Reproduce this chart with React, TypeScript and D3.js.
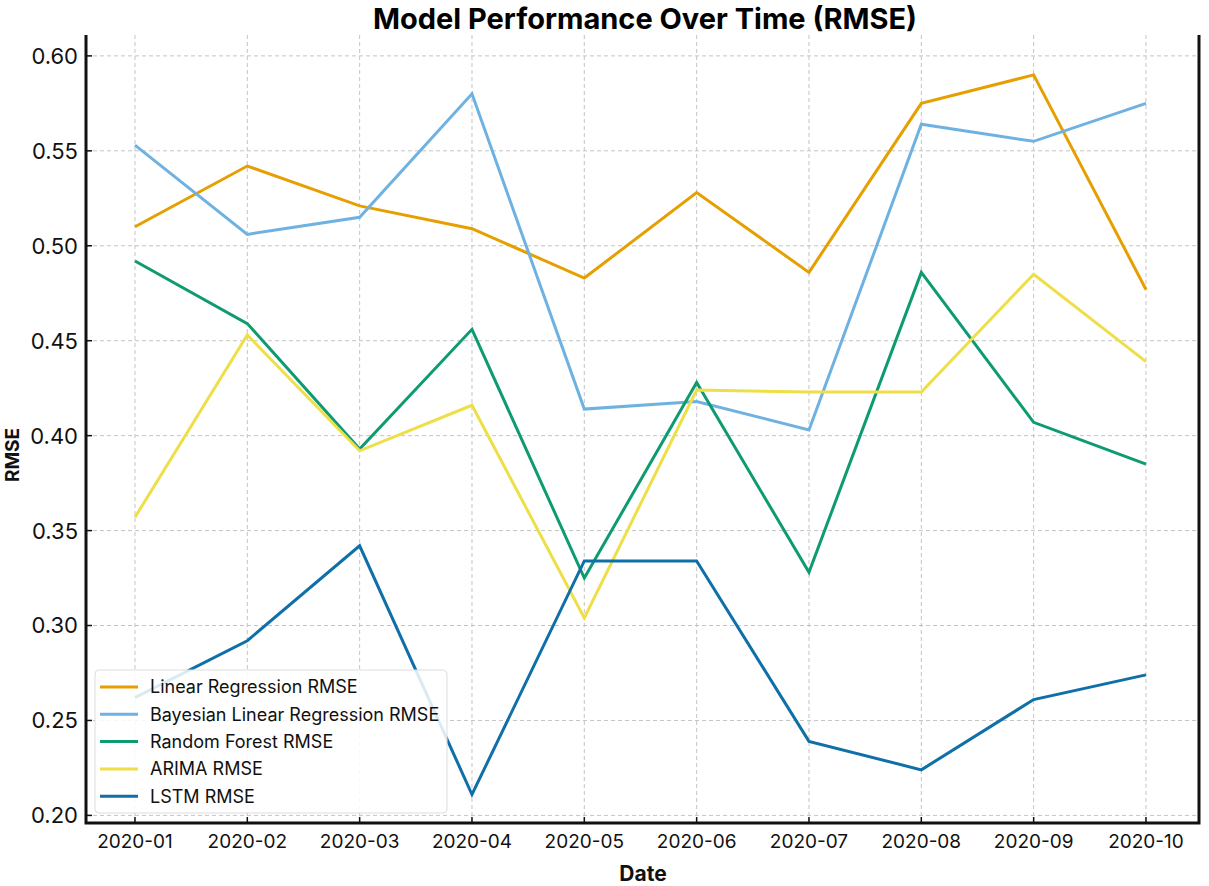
import { useEffect, useRef } from 'react'
import * as d3 from 'd3'

const months = ['2020-01', '2020-02', '2020-03', '2020-04', '2020-05', '2020-06', '2020-07', '2020-08', '2020-09', '2020-10']

const linearReg = [0.510, 0.542, 0.521, 0.509, 0.483, 0.528, 0.486, 0.575, 0.590, 0.477]
const bayesianReg = [0.553, 0.506, 0.515, 0.580, 0.414, 0.418, 0.403, 0.564, 0.555, 0.575]
const randomForest = [0.492, 0.459, 0.393, 0.456, 0.325, 0.428, 0.328, 0.486, 0.407, 0.385]
const arima = [0.357, 0.453, 0.392, 0.416, 0.304, 0.424, 0.423, 0.423, 0.485, 0.439]
const lstm = [0.262, 0.292, 0.342, 0.211, 0.334, 0.334, 0.239, 0.224, 0.261, 0.274]

const yTicks = [0.2, 0.25, 0.3, 0.35, 0.4, 0.45, 0.5, 0.55, 0.6]

interface Series {
  name: string
  values: number[]
  color: string
}

const series: Series[] = [
  { name: 'Linear Regression RMSE', values: linearReg, color: '#E69F00' },
  { name: 'Bayesian Linear Regression RMSE', values: bayesianReg, color: '#6FB2E2' },
  { name: 'Random Forest RMSE', values: randomForest, color: '#0E9B72' },
  { name: 'ARIMA RMSE', values: arima, color: '#EEDF48' },
  { name: 'LSTM RMSE', values: lstm, color: '#0F6FA8' },
]

const W = 1209
const H = 886
const FONT = 'Inter, "Noto Sans", sans-serif'

export default function App() {
  const svgRef = useRef<SVGSVGElement>(null)

  useEffect(() => {
    if (!svgRef.current) return
    const svg = d3.select(svgRef.current)
    svg.selectAll('*').remove()

    const left = 86, right = 1199, top = 35, bottom = 823

    const x = d3.scaleLinear().domain([-0.436, 9.472]).range([left, right])
    const y = d3.scaleLinear().domain([0.196, 0.611]).range([bottom, top])

    svg.append('rect').attr('width', W).attr('height', H).attr('fill', '#fff')

    // grid
    const grid = svg.append('g').attr('stroke', '#c4c4c4').attr('stroke-width', 1).attr('stroke-dasharray', '4,3')
    grid.selectAll('line.h')
      .data(yTicks)
      .join('line')
      .attr('x1', left).attr('x2', right)
      .attr('y1', d => y(d)).attr('y2', d => y(d))
    grid.selectAll('line.v')
      .data(months.map((_, i) => i))
      .enter()
      .append('line')
      .attr('x1', d => x(d)).attr('x2', d => x(d))
      .attr('y1', top).attr('y2', bottom)

    // lines
    const line = d3.line<number>().x((_, i) => x(i)).y(d => y(d))
    svg.append('g')
      .selectAll('path')
      .data(series)
      .join('path')
      .attr('d', d => line(d.values))
      .attr('fill', 'none')
      .attr('stroke', d => d.color)
      .attr('stroke-width', 3)
      .attr('stroke-linejoin', 'miter')

    // spines (no top one)
    const spine = svg.append('g').attr('stroke', '#111').attr('stroke-width', 3).attr('fill', 'none')
    spine.append('path').attr('d', `M${left},${top}V${bottom}H${right}V${top}`)

    // ticks point inward
    const ticks = svg.append('g').attr('stroke', '#111').attr('stroke-width', 1.5)
    ticks.selectAll('line.y')
      .data(yTicks)
      .join('line')
      .attr('x1', left).attr('x2', left + 6)
      .attr('y1', d => y(d)).attr('y2', d => y(d))
    ticks.selectAll('line.x')
      .data(months.map((_, i) => i))
      .enter()
      .append('line')
      .attr('x1', d => x(d)).attr('x2', d => x(d))
      .attr('y1', bottom).attr('y2', bottom - 6)

    // tick labels
    svg.append('g')
      .selectAll('text')
      .data(yTicks)
      .join('text')
      .attr('x', left - 8)
      .attr('y', d => y(d))
      .attr('dy', '0.36em')
      .attr('text-anchor', 'end')
      .attr('font-family', FONT)
      .attr('font-size', 22)
      .attr('fill', '#111')
      .text(d => d3.format('.2f')(d))

    svg.append('g')
      .selectAll('text')
      .data(months)
      .join('text')
      .attr('x', (_, i) => x(i))
      .attr('y', 848)
      .attr('text-anchor', 'middle')
      .attr('font-family', FONT)
      .attr('font-size', 19)
      .attr('fill', '#111')
      .text(d => d)

    // titles
    svg.append('text')
      .attr('x', 645).attr('y', 29)
      .attr('text-anchor', 'middle')
      .attr('font-family', FONT)
      .attr('font-size', 29)
      .attr('font-weight', 700)
      .attr('fill', '#000')
      .text('Model Performance Over Time (RMSE)')

    svg.append('text')
      .attr('x', 643).attr('y', 881)
      .attr('text-anchor', 'middle')
      .attr('font-family', FONT)
      .attr('font-size', 21)
      .attr('font-weight', 700)
      .attr('fill', '#111')
      .text('Date')

    svg.append('text')
      .attr('transform', 'translate(19,455) rotate(-90)')
      .attr('text-anchor', 'middle')
      .attr('font-family', FONT)
      .attr('font-size', 19)
      .attr('font-weight', 700)
      .attr('fill', '#111')
      .text('RMSE')

    // legend
    const lg = svg.append('g').attr('transform', 'translate(95,670)')
    lg.append('rect')
      .attr('width', 352).attr('height', 143).attr('rx', 4)
      .attr('fill', '#fff').attr('fill-opacity', 0.85)
      .attr('stroke', '#ddd').attr('stroke-width', 1)
    const rows = lg.selectAll('g.row')
      .data(series)
      .enter()
      .append('g')
      .attr('transform', (_, i) => `translate(0,${17 + i * 27.3})`)
    rows.append('line')
      .attr('x1', 5).attr('x2', 43)
      .attr('stroke', d => d.color)
      .attr('stroke-width', 3)
    rows.append('text')
      .attr('x', 55)
      .attr('dy', '0.36em')
      .attr('font-family', FONT)
      .attr('font-size', 18)
      .attr('fill', '#111')
      .text(d => d.name)
  }, [])

  return (
    <div style={{ position: 'absolute', left: 0, top: 0 }}>
      <svg ref={svgRef} width={W} height={H} style={{ display: 'block' }} />
    </div>
  )
}
